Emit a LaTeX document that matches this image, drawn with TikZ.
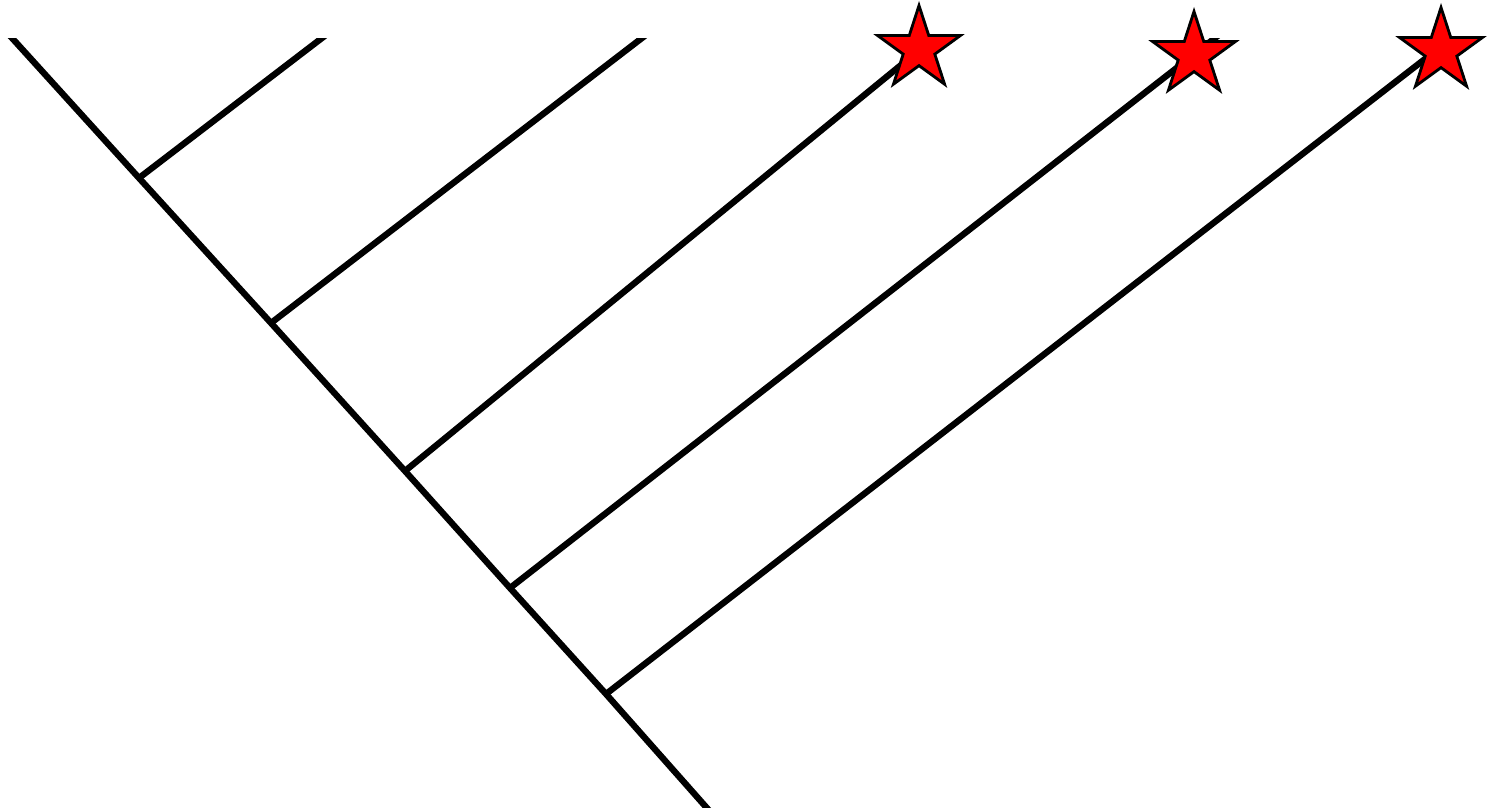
\documentclass[tikz,border=0pt]{standalone}
\usepackage{tikz}
\usetikzlibrary{shapes.geometric}

\begin{document}
\begin{tikzpicture}[
  edge/.style={line width=1.8pt, black},
  hit/.style={draw=black, fill=red, star, star points=5, star point ratio=2.618,
              minimum size=0.87cm, inner sep=0pt, line width=0.8pt}
]
\useasboundingbox (0,0) rectangle (14.9,8.07);

% trunk points
\coordinate (root) at (0.12,7.69);
\coordinate (n1)   at (1.39,6.29);
\coordinate (n2)   at (2.71,4.84);
\coordinate (n3)   at (4.05,3.36);
\coordinate (n4)   at (5.10,2.19);
\coordinate (n5)   at (6.06,1.13);
\coordinate (base) at (7.06,0);

% leaf ends
\coordinate (l1) at (3.22,7.69);
\coordinate (l2) at (6.42,7.69);
\coordinate (l3) at (9.34,7.69);
\coordinate (l4) at (12.15,7.69);
\coordinate (l5) at (14.52,7.69);

\begin{scope}
\clip (0,0) rectangle (14.9,7.69);
\draw[edge, shorten <=-3pt, shorten >=-3pt] (root) -- (n1) -- (n2) -- (n3) -- (n4) -- (n5) -- (base);
\draw[edge, shorten >=-3pt] (n1) -- (l1);
\draw[edge, shorten >=-3pt] (n2) -- (l2);
\draw[edge, shorten >=-3pt] (n3) -- (l3);
\draw[edge, shorten >=-3pt] (n4) -- (l4);
\draw[edge, shorten >=-3pt] (n5) -- (l5);
\end{scope}

\node[hit] (s1) at (9.19,7.58) {};
\node[hit] (s2) at (11.94,7.52) {};
\node[hit] (s3) at (14.41,7.56) {};
\end{tikzpicture}
\end{document}
